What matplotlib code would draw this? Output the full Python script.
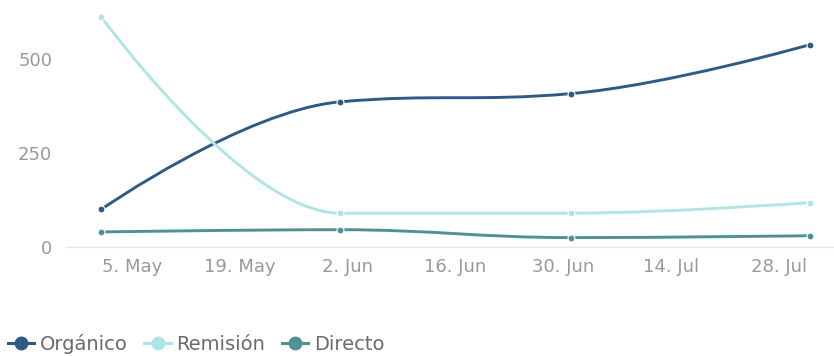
#!/usr/bin/env python3
"""Tráfico por canal - curvas suavizadas tipo spline"""
import matplotlib
matplotlib.use('Agg')
import matplotlib.pyplot as plt
import matplotlib.dates as mdates
from matplotlib.path import Path
from matplotlib.patches import PathPatch
from matplotlib.lines import Line2D
import datetime as dt

# ── datos ──
fechas = [dt.date(2014, 5, 1), dt.date(2014, 6, 1), dt.date(2014, 7, 1), dt.date(2014, 8, 1)]
organico = [100, 386, 408, 538]
remision = [612, 90, 90, 118]
directo = [40, 46, 25, 30]

series = ["Orgánico", "Remisión", "Directo"]
colores = ['#2e5b86', '#b1e5e5', '#4f9292']
tick_fechas = [dt.date(2014, 5, 5), dt.date(2014, 5, 19), dt.date(2014, 6, 2), dt.date(2014, 6, 16),
               dt.date(2014, 6, 30), dt.date(2014, 7, 14), dt.date(2014, 7, 28)]
tick_labels = ['5. May', '19. May', '2. Jun', '16. Jun', '30. Jun', '14. Jul', '28. Jul']


def spline_path(xs, ys, smoothing=1.5):
    # curvas bezier como el spline de highcharts
    n = len(xs)
    denom = smoothing + 1
    left = [None] * n
    right = [None] * n
    for i in range(1, n - 1):
        lx, ly = xs[i - 1], ys[i - 1]
        nx, ny = xs[i + 1], ys[i + 1]
        px, py = xs[i], ys[i]
        lcx = (smoothing * px + lx) / denom
        lcy = (smoothing * py + ly) / denom
        rcx = (smoothing * px + nx) / denom
        rcy = (smoothing * py + ny) / denom
        corr = 0
        if rcx != lcx:
            corr = (rcy - lcy) * (rcx - px) / (rcx - lcx) + py - rcy
        lcy += corr
        rcy += corr
        if lcy > ly and lcy > py:
            lcy = max(ly, py); rcy = 2 * py - lcy
        elif lcy < ly and lcy < py:
            lcy = min(ly, py); rcy = 2 * py - lcy
        if rcy > ny and rcy > py:
            rcy = max(ny, py); lcy = 2 * py - rcy
        elif rcy < ny and rcy < py:
            rcy = min(ny, py); lcy = 2 * py - rcy
        left[i] = (lcx, lcy)
        right[i] = (rcx, rcy)
    verts = [(xs[0], ys[0])]
    codes = [Path.MOVETO]
    for i in range(1, n):
        c1 = right[i - 1] or (xs[i - 1], ys[i - 1])
        c2 = left[i] or (xs[i], ys[i])
        verts += [c1, c2, (xs[i], ys[i])]
        codes += [Path.CURVE4] * 3
    return Path(verts, codes)


fig = plt.figure(figsize=(8.34, 3.56), dpi=100, facecolor='white')
ax = fig.add_axes([66 / 834, 109 / 356, 768 / 834, 235 / 356])

xn = mdates.date2num(fechas)
for vals, col, name in zip([organico, remision, directo], colores, series):
    ax.add_patch(PathPatch(spline_path(list(xn), vals), fill=False, edgecolor=col, lw=2.1,
                           capstyle='round', joinstyle='round', zorder=2))
    ax.plot(xn, vals, 'o', color=col, ms=5, mec='white', mew=0.8, zorder=3)

ax.set_xlim(xn[0] - 4.57, xn[-1] + 3.14)
ax.set_ylim(0, 625)
ax.set_yticks([0, 250, 500])
ax.set_xticks(mdates.date2num(tick_fechas))
ax.set_xticklabels(tick_labels)
ax.tick_params(axis='both', length=0, labelsize=13, labelcolor='#999999')
ax.tick_params(axis='x', pad=8)
ax.tick_params(axis='y', pad=10)
for s in ['top', 'right', 'left']:
    ax.spines[s].set_visible(False)
ax.spines['bottom'].set_color('#e6e6e6')
ax.spines['bottom'].set_linewidth(1)

handles = [Line2D([], [], color=c, lw=2.2, marker='o', ms=9, mec=c) for c in colores]
fig.legend(handles, series, loc='center left', bbox_to_anchor=(8 / 834, 12 / 356), ncol=3, frameon=False,
           borderpad=0, borderaxespad=0, fontsize=14, labelcolor='#6a6a6a',
           handlelength=1.35, handletextpad=0.3, columnspacing=0.85)

fig.savefig('out.png', dpi=100, facecolor='white')
plt.close()
